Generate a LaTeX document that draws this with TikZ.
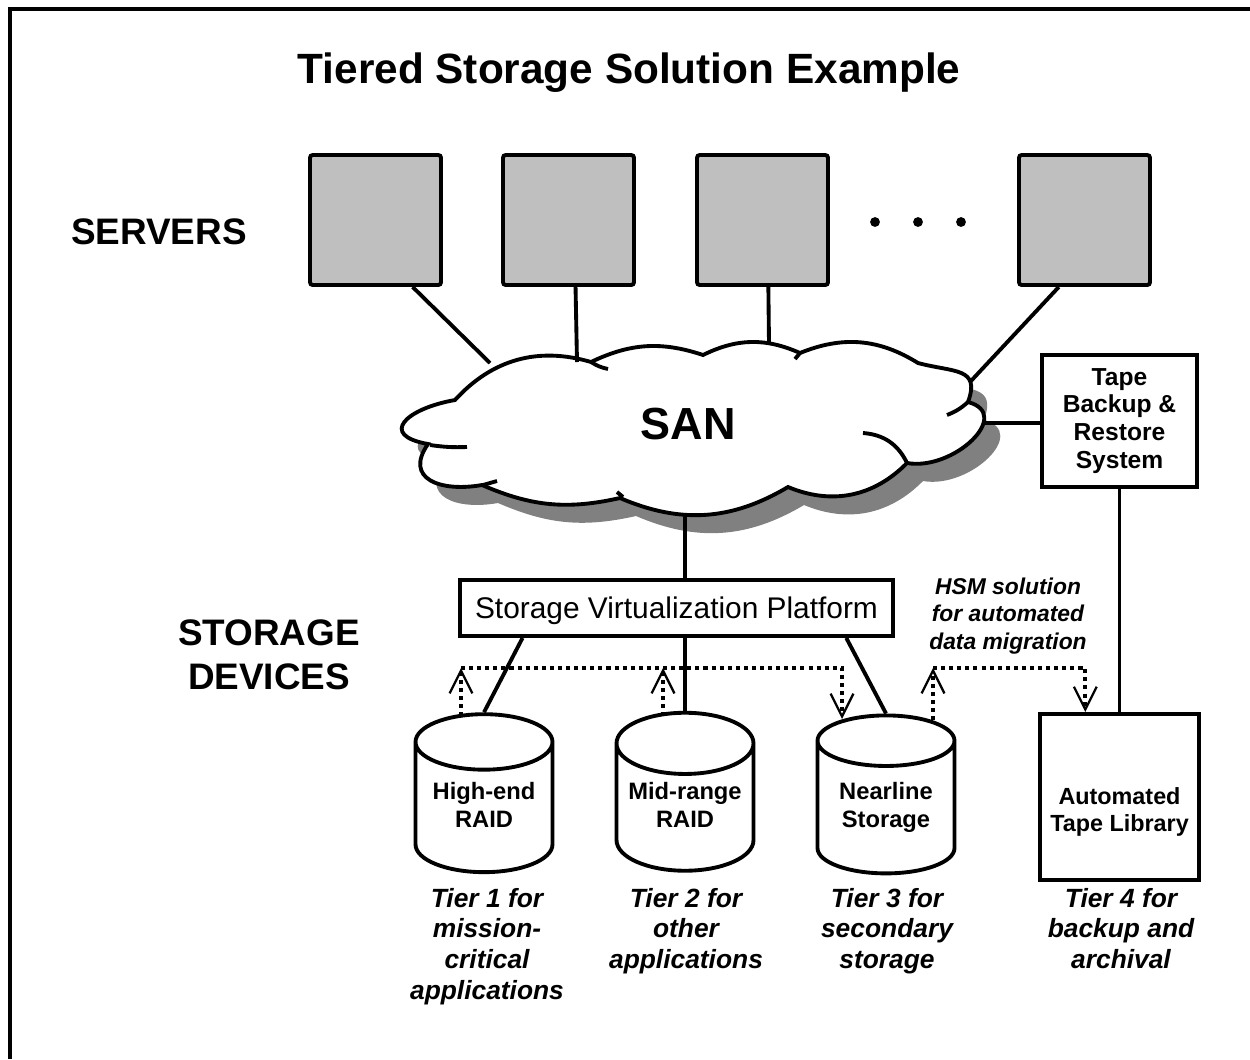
\documentclass[tikz,border=0pt]{standalone}
\usepackage{fontspec}
\setmainfont{Liberation Sans}
\usetikzlibrary{positioning, shapes, shapes.geometric, calc, arrows.meta}
\definecolor{boxgray}{rgb}{0.75, 0.75, 0.75}
\definecolor{shadegray}{rgb}{0.5, 0.5, 0.5}
% outline of the SAN cloud, in pixel units
\newcommand{\sanoutline}{(455,400) to[bend left=32] (591,362) to[bend left=22] (703,355)
	to[bend left=25] (800,353) to[bend left=27] (918,363)
	to[out=-15, in=70, looseness=1.5] (968,402) to[out=-15, in=-10, looseness=1.4] (907,463)
	to[bend left=34] (788,487) to[bend left=27] (620,498) to[bend left=18] (482,485)
	to[out=190, in=235, looseness=1.6] (428,444) to[out=170, in=190, looseness=2.5] (455,400) -- cycle}

\begin{document}
\begin{tikzpicture}[x=0.02cm, y=-0.02cm, line width=2.2pt,
	every node/.style={align=center, inner sep=0pt},
	server/.style={draw, fill=boxgray, rounded corners=1.5pt, minimum width=2.62cm, minimum height=2.6cm},
	disk/.style={cylinder, shape border rotate=90, draw, fill=white, aspect=0.54, minimum width=2.74cm, minimum height=3.16cm, text depth=3.5pt, font=\fontsize{13.5}{15.9}\selectfont\bfseries},
	tierlabel/.style={anchor=north, font=\fontsize{15}{17.6}\selectfont\bfseries\itshape},
	migrate/.style={line width=2.2pt, dash pattern=on 2.3pt off 2.3pt, -{Straight Barb[length=13pt, width=13pt, line width=1.3pt]}}]
	\useasboundingbox (0,0) rectangle (1250,1059);
	\draw (1250,9) -- (10,9) -- (10,1059);
	% headings
	\node[font=\fontsize{24.1}{28}\selectfont\bfseries] (title) at (629,73) {Tiered Storage Solution Example};
	\node[font=\fontsize{21}{25}\selectfont\bfseries] (servers) at (159,232) {SERVERS};
	\node[font=\fontsize{21}{25}\selectfont\bfseries] (devices) at (269,655) {STORAGE\\DEVICES};
	% servers
	\foreach \sx [count=\si] in {375.5, 568.5, 762.5, 1084.5}
		\node[server] (srv\si) at (\sx,220) {};
	\foreach \dx in {875, 918, 961}
		\fill (\dx,222) circle (2.8pt);
	% SAN cloud
	\fill[shadegray, shift={(16,18)}] \sanoutline;
	\draw[fill=white] \sanoutline;
	\draw (591,362) to[bend right=10] (608,369);
	\draw (430,445) to[bend right=5] (467,447);
	\draw (483,485) -- (497,481);
	\draw (617,492) -- (623,497);
	\draw (800,353) -- (795,359);
	\draw (968,402) to[bend left=10] (947,415);
	\draw (863,433) to[bend left=30] (907,463);
	\node[font=\fontsize{25.6}{30}\selectfont\bfseries] (san) at (688,424) {SAN};
	\coordinate (s1end) at (490,363);
	\coordinate (s2end) at (577,362);
	\coordinate (s3end) at (769,344);
	\coordinate (s4end) at (970,382);
	\coordinate (tapeend) at (984,423);
	\coordinate (svpend) at (685,514);
	% boxes
	\node[draw, fill=white, minimum width=3.1cm, minimum height=2.64cm, font=\fontsize{14}{15.9}\selectfont\bfseries] (tape) at (1119.5,421) {Tape\\Backup \&\\Restore\\System};
	\node[draw, fill=white, minimum width=8.66cm, minimum height=1.12cm, text depth=0pt, font=\fontsize{17}{20}\selectfont] (svp) at (676.5,608) {Storage Virtualization Platform};
	\node[draw, fill=white, minimum width=3.18cm, minimum height=3.32cm] (atl) at (1119.5,797) {};
	\node[font=\fontsize{13.3}{15.3}\selectfont\bfseries] (atltext) at (1119.5,812) {Automated\\Tape Library};
	% disks
	\node[disk] (cyl1) at (484,808) {High-end\\RAID};
	\node[disk] (cyl2) at (685,808) {Mid-range\\RAID};
	\node[disk] (cyl3) at (886,808) {Nearline\\Storage};
	\node[tierlabel] (tier1) at (487,886) {Tier 1 for\\mission-\\critical\\applications};
	\node[tierlabel] (tier2) at (686,886) {Tier 2 for\\other\\applications};
	\node[tierlabel] (tier3) at (887,886) {Tier 3 for\\secondary\\storage};
	\node[tierlabel] (tier4) at (1121,886) {Tier 4 for\\backup and\\archival};
	\node[font=\fontsize{13}{15.6}\selectfont\bfseries\itshape] (hsm) at (1008,616) {HSM solution\\for automated\\data migration};
	% links
	\draw (srv1.-61) -- (s1end);
	\draw (srv2.-84) -- (s2end);
	\draw (srv3.-85) -- (s3end);
	\draw (srv4.-111) -- (s4end);
	\draw (tapeend) -- (tapeend -| tape.west);
	\draw (svpend) -- (svpend |- svp.north);
	\draw (svp.191) -- (cyl1.top);
	\draw (cyl2.top |- svp.south) -- (cyl2.top);
	\draw (svp.350) -- (cyl3.top);
	\draw (tape.south) -- (atl.north);
	% migration paths
	\coordinate (hsmline) at (0,668);
	\coordinate (up1) at (461,716);
	\coordinate (up2) at (663,716);
	\coordinate (dn3) at (842,719);
	\coordinate (up3) at (933,720);
	\coordinate (dn4) at ($(atl.north west)!0.29!(atl.north east)$);
	\draw[migrate] (up1) -- (up1 |- hsmline);
	\draw[migrate] (up2) -- (up2 |- hsmline);
	\draw[migrate] (up1 |- hsmline) -- (dn3 |- hsmline) -- (dn3);
	\draw[migrate] (up3) -- (up3 |- hsmline);
	\draw[migrate] (up3 |- hsmline) -- (dn4 |- hsmline) -- (dn4);
\end{tikzpicture}
\end{document}
